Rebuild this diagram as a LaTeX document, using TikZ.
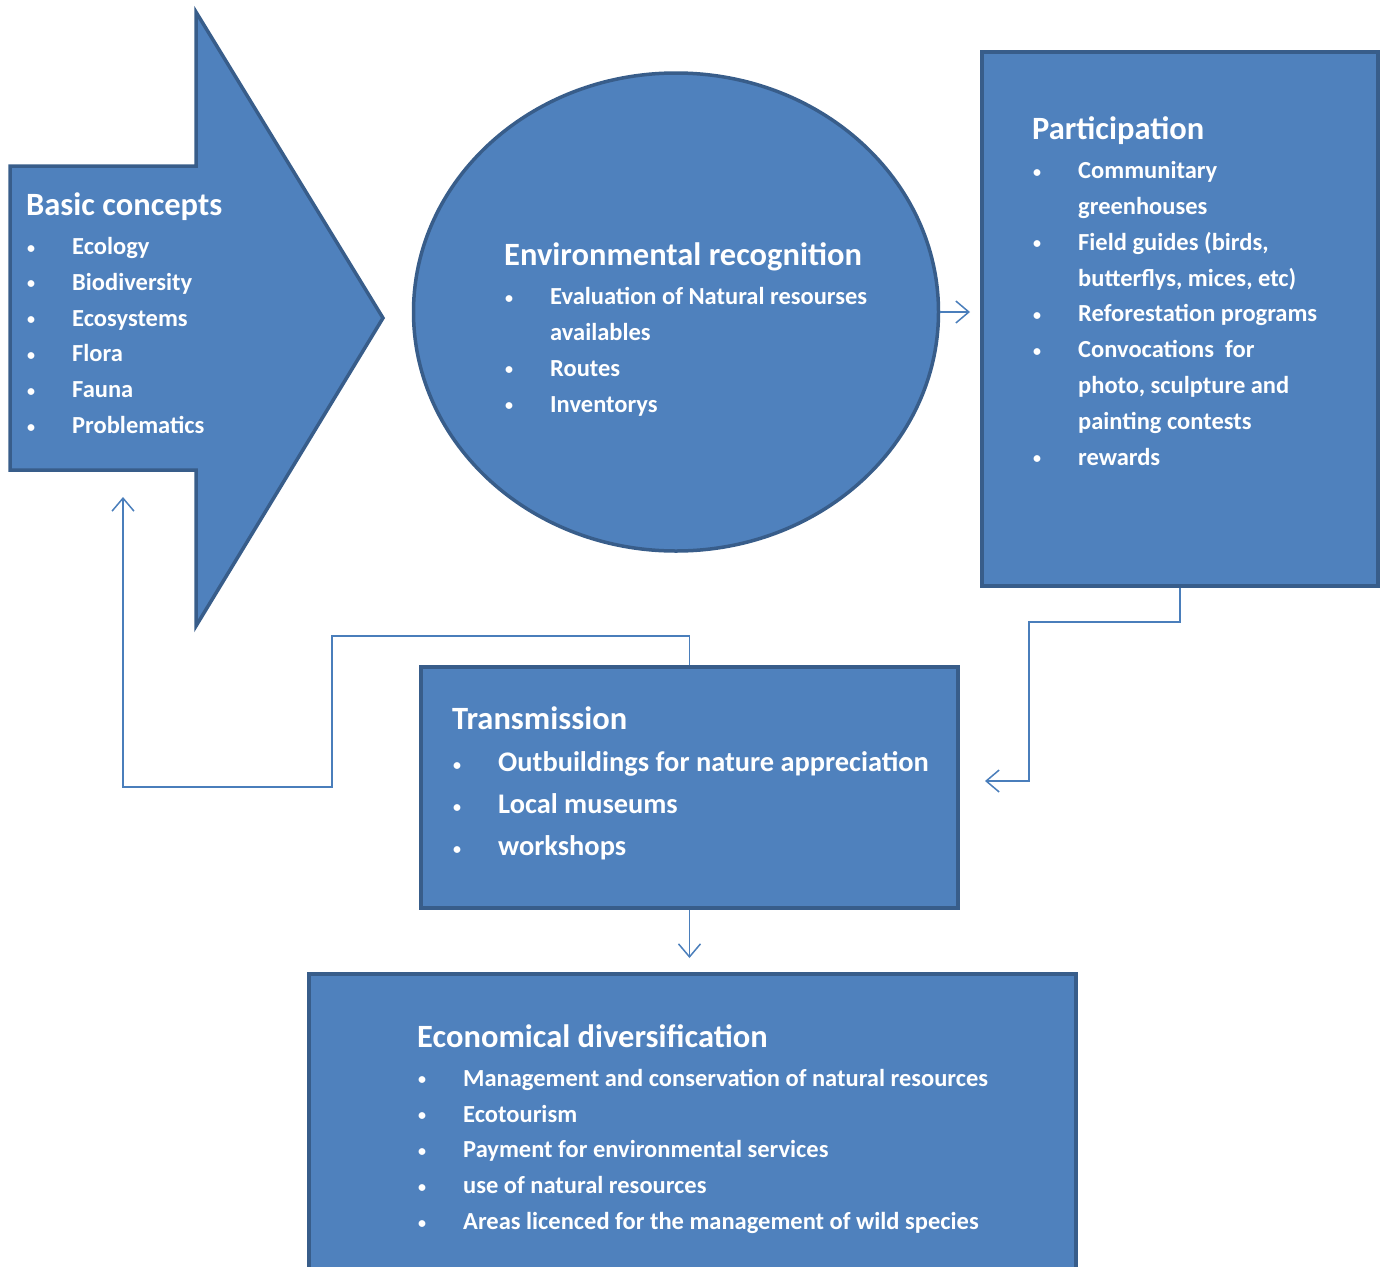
\documentclass[tikz,border=0pt]{standalone}
\usepackage{fontspec}
\setmainfont{Carlito}
\usetikzlibrary{shapes.geometric,arrows.meta}
\definecolor{boxfill}{HTML}{4F81BD}
\definecolor{boxedge}{HTML}{385D8A}
\definecolor{linkblue}{HTML}{4A7EBB}
\tikzset{
  panel/.style = {draw=boxedge, fill=boxfill, line width=3.5pt, inner sep=0pt},
  link/.style = {draw=linkblue, line width=1.5pt, -{Straight Barb[length=13pt,width=22pt]}},
  heading/.style = {text=white, anchor=base west, inner sep=0pt,
    font=\bfseries\fontsize{32.5}{38}\selectfont},
  listing/.style = {text=white, anchor=base west, inner sep=0pt, align=left,
    font=\bfseries\fontsize{24.5}{35.8}\selectfont}
}
\tikzset{>=latex}
\newcommand{\li}[1]{\makebox[45pt][l]{\raisebox{1.5pt}{\fontsize{16}{16}\selectfont\textbullet}}#1}
\newcommand{\lc}[1]{\hspace*{45pt}#1}

\begin{document}
\begin{tikzpicture}[x=1pt,y=-1pt]
  \useasboundingbox (0,0) rectangle (1385,1267);
  % arrow
  \draw[panel, line join=miter] (10,166) -- (196,166) -- (196,12) -- (383,318)
    -- (196,626) -- (196,470) -- (10,470) -- cycle;
  \coordinate (backtip) at (123,497);
  % (listings sit on the baseline of their last line)
  \node[heading] (basicstitle) at (26,215.5) {Basic concepts};
  \node[listing] (basics) at (27,433.5) {\li{Ecology}\\ \li{Biodiversity}\\ \li{Ecosystems}\\
    \li{Flora}\\ \li{Fauna}\\ \li{Problematics}};
  % ellipse
  \node[panel, ellipse, minimum width=525pt, minimum height=478pt] (recog) at (676,312) {};
  \node[heading] (recogtitle) at (504,265.5) {Environmental recognition};
  \node[listing] (recoglist) at (505,412) {\li{Evaluation of Natural resourses}\\ \lc{availables}\\
    \li{Routes}\\ \li{Inventorys}};
  % boxes
  \node[panel, minimum width=396pt, minimum height=534pt] (partic) at (1180,319) {};
  \node[heading] (partictitle) at (1032,139.5) {Participation};
  \node[listing] (particlist) at (1033,465) {\li{Communitary}\\ \lc{greenhouses}\\
    \li{Field guides (birds,}\\ \lc{butterflys, mices, etc)}\\ \li{Reforestation programs}\\
    \li{Convocations\ \ for}\\ \lc{photo, sculpture and}\\ \lc{painting contests}\\ \li{rewards}};
  \node[panel, minimum width=537pt, minimum height=241pt] (transm) at (689.5,787.5) {};
  \node[heading] (transmtitle) at (452,729.5) {Transmission};
  \node[listing, font=\bfseries\fontsize{28.4}{42}\selectfont] (transmlist) at (453,855.5)
    {\li{Outbuildings for nature appreciation}\\ \li{Local museums}\\ \li{workshops}};
  \node[panel, minimum width=767pt, minimum height=316pt] (econ) at (692.5,1132) {};
  \node[heading] (econtitle) at (417,1047.5) {Economical diversification};
  \node[listing] (econlist) at (418,1229.5) {\li{Management and conservation of natural resources}\\
    \li{Ecotourism}\\ \li{Payment for environmental services}\\ \li{use of natural resources}\\
    \li{Areas licenced for the management of wild species}};
  % connectors
  \coordinate (particin) at (970,312);
  \coordinate (transmin) at (985,781);
  \coordinate (econin) at (689.5,958);
  \draw[link] (recog.east) -- (particin);
  \draw[link] (partic.south) |- (1029,622) |- (transmin);
  \draw[link] (transm.north) |- (332,636) |- (123,787) -- (backtip);
  \draw[link] (transm.south) -- (econin);
\end{tikzpicture}
\end{document}
